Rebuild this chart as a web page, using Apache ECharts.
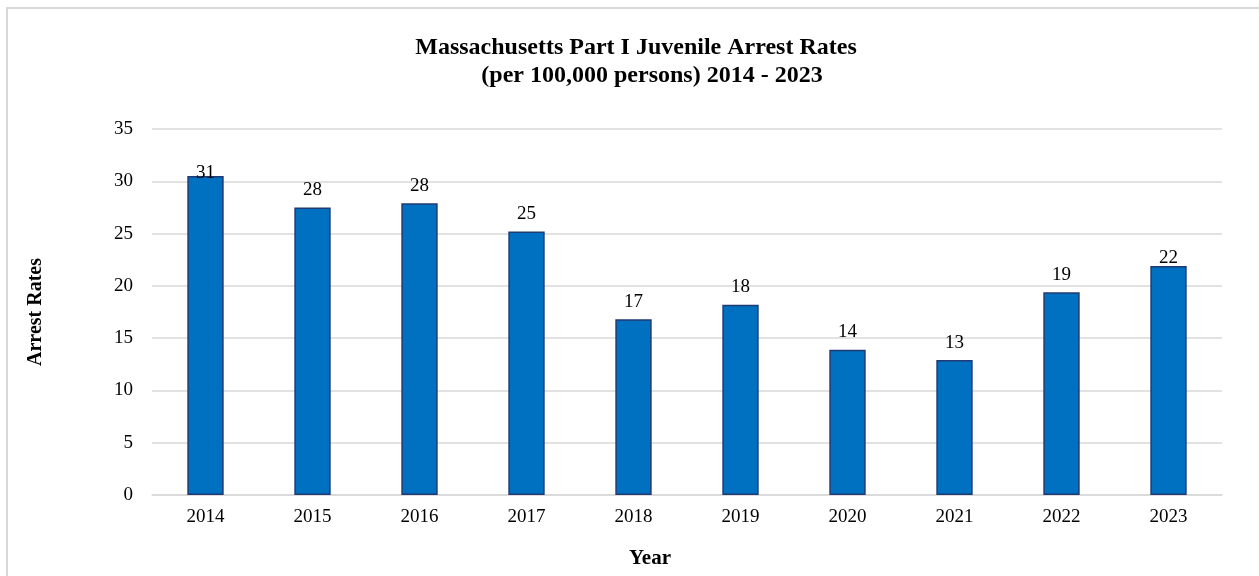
<!DOCTYPE html>
<html>
<head>
<meta charset="utf-8">
<script src="https://cdn.jsdelivr.net/npm/echarts@6/dist/echarts.min.js"></script>
<style>html,body{margin:0;padding:0;background:#fff}#c{width:1259px;height:576px}</style>
</head>
<body>
<div id="c"></div>
<script>
var years = ['2014','2015','2016','2017','2018','2019','2020','2021','2022','2023'];
var rates = [30.5, 27.5, 27.9, 25.2, 16.8, 18.2, 13.9, 12.9, 19.4, 21.9];
var labelGaps = [-6, 8, 8, 8, 8, 8, 8, 8, 8, -2];
var titleLine1 = 'Massachusetts Part I Juvenile Arrest Rates';
var titleLine2 = '(per 100,000 persons) 2014 - 2023';
var yName = 'Arrest Rates';
var xName = 'Year';

var font = '"Liberation Serif", "Times New Roman", serif';
var chart = echarts.init(document.getElementById('c'), null, {renderer: 'canvas'});
chart.setOption({
  animation: false,
  backgroundColor: '#ffffff',
  title: [
    {text: titleLine1, left: 631, top: 31, textAlign: 'center',
     textStyle: {fontFamily: font, fontWeight: 'bold', fontSize: 24, color: '#000'}},
    {text: titleLine2, left: 647, top: 59, textAlign: 'center',
     textStyle: {fontFamily: font, fontWeight: 'bold', fontSize: 24, color: '#000'}}
  ],
  graphic: [
    {type: 'rect', shape: {x: 7, y: 8, width: 1300, height: 620},
     style: {fill: 'none', stroke: '#d9d9d9', lineWidth: 2}, silent: true},
    {type: 'text', x: 650, y: 559,
     style: {text: xName, font: 'bold 21px ' + font, fill: '#000', textAlign: 'center', textVerticalAlign: 'middle'}}
  ],
  grid: {left: 152, right: 37, top: 129, bottom: 81},
  xAxis: {
    type: 'category', data: years,
    axisLine: {show: true, lineStyle: {color: '#d9d9d9', width: 1.5}},
    axisTick: {show: false},
    axisLabel: {fontFamily: font, fontSize: 19, color: '#000', margin: 13}
  },
  yAxis: {
    type: 'value', min: 0, max: 35, interval: 5,
    name: yName, nameLocation: 'middle', nameGap: 106, nameRotate: 90,
    nameTextStyle: {fontFamily: font, fontWeight: 'bold', fontSize: 20, color: '#000'},
    axisLine: {show: false}, axisTick: {show: false},
    splitLine: {lineStyle: {color: '#d9d9d9', width: 1.5}},
    axisLabel: {fontFamily: font, fontSize: 19, color: '#000', margin: 19}
  },
  series: [{
    type: 'bar', barWidth: '34%',
    data: rates.map(function(v, i){ return {value: v, label: {distance: labelGaps[i]}}; }),
    itemStyle: {color: '#0070c0', borderColor: '#1f3a74', borderWidth: 1.5},
    label: {show: true, position: 'top', fontFamily: font, fontSize: 19, color: '#000',
      formatter: function(p){ return Math.round(p.value); }}
  }]
});
</script>
</body>
</html>
